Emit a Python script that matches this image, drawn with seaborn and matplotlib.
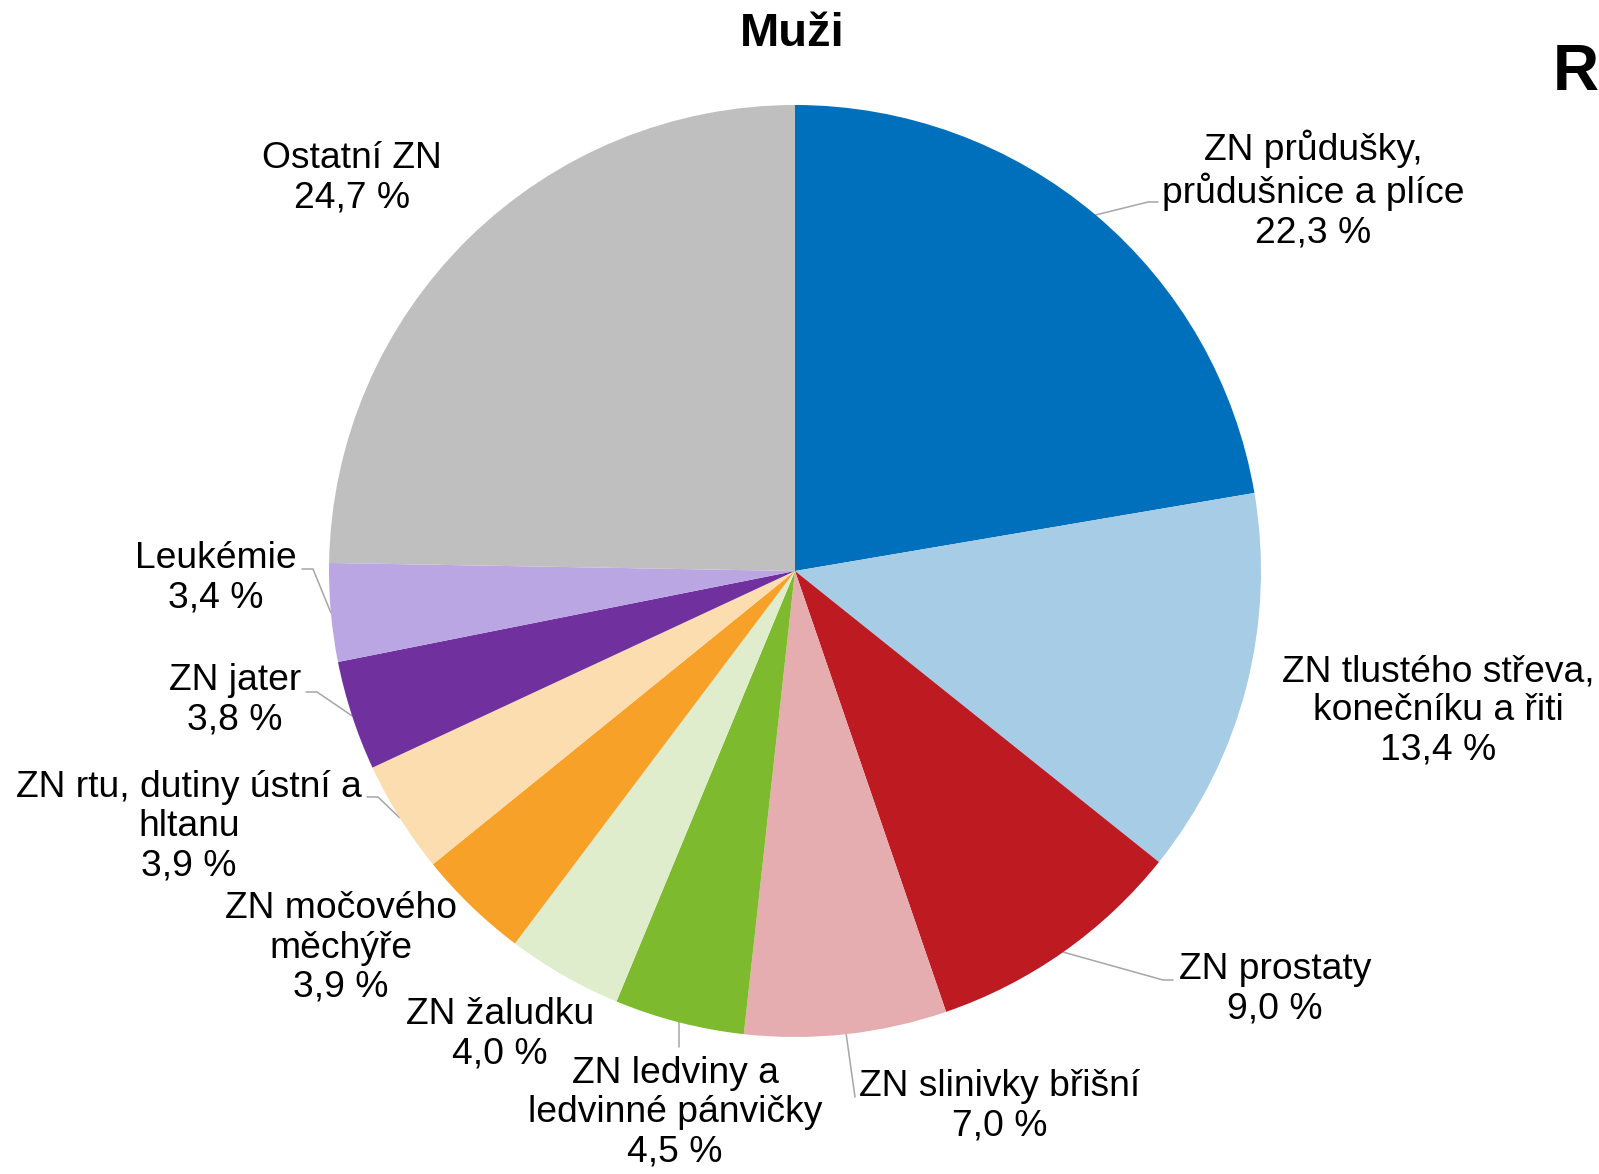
import numpy as np
import matplotlib
matplotlib.use("Agg")
import matplotlib.pyplot as plt
import seaborn as sns

# data
labels = [
    "ZN průdušky,\nprůdušnice a plíce",
    "ZN tlustého střeva,\nkonečníku a řiti",
    "ZN prostaty",
    "ZN slinivky břišní",
    "ZN ledviny a\nledvinné pánvičky",
    "ZN žaludku",
    "ZN močového\nměchýře",
    "ZN rtu, dutiny ústní a\nhltanu",
    "ZN jater",
    "Leukémie",
    "Ostatní ZN",
]
shares = [22.3, 13.4, 9.0, 7.0, 4.5, 4.0, 3.9, 3.9, 3.8, 3.4, 24.7]
colors = ["#0070BD", "#A6CCE6", "#BD1A22", "#E6ADB0", "#7DBA2E", "#DFEDCC",
          "#F7A128", "#FBDDB0", "#70309E", "#B9A6E3", "#BFBFBF"]

# label placement (image pixel coords, y from top)
label_xy = [(1313, 190), (1438, 711), (1275, 989), (1000, 1106), (675, 1113),
            (500, 1034), (341, 948), (189, 827), (235, 700), (216, 578), (352, 178)]
# leader line bend / end points (None = no leader line)
leaders = [
    [(1148, 202), (1158, 202)],
    None,
    [(1163, 980), (1173, 980)],
    [(855, 1097)],
    [(679, 1047)],
    None,
    None,
    [(378, 797), (367, 797)],
    [(317, 692), (306, 692)],
    [(313, 569), (302, 569)],
    None,
]

W, H = 1599, 1174
cx, cy, r = 795, 571, 466

sns.set_theme(style="white")
plt.rcParams["font.family"] = ["Liberation Sans", "DejaVu Sans"]

fig = plt.figure(figsize=(W / 100, H / 100), dpi=100)
ax = fig.add_axes([0, 0, 1, 1])

wedges, _ = ax.pie(shares, colors=colors, startangle=90, counterclock=False,
                   center=(cx, H - cy), radius=r,
                   wedgeprops=dict(linewidth=0))
ax.set_xlim(0, W)
ax.set_ylim(0, H)
ax.set_aspect("equal")
ax.axis("off")

for i, (w, lab, val) in enumerate(zip(wedges, labels, shares)):
    txt = f"{lab}\n{val:.1f} %".replace(".", ",")
    lx, ly = label_xy[i]
    ax.text(lx, H - ly, txt, ha="center", va="center", fontsize=26.8,
            linespacing=1.15, color="black")
    if leaders[i] is not None:
        mid = np.deg2rad((w.theta1 + w.theta2) / 2)
        xs = [cx + r * np.cos(mid)] + [p[0] for p in leaders[i]]
        ys = [H - cy + r * np.sin(mid)] + [H - p[1] for p in leaders[i]]
        ax.plot(xs, ys, color="#A6A6A6", lw=1.1, zorder=0.5)

ax.text(792, H - 34, "Muži", ha="center", va="center", fontsize=34,
        fontweight="bold", color="black")
ax.text(1553, H - 73, "R", ha="left", va="center", fontsize=46,
        fontweight="bold", color="black")

fig.savefig("out.png", dpi=100)
